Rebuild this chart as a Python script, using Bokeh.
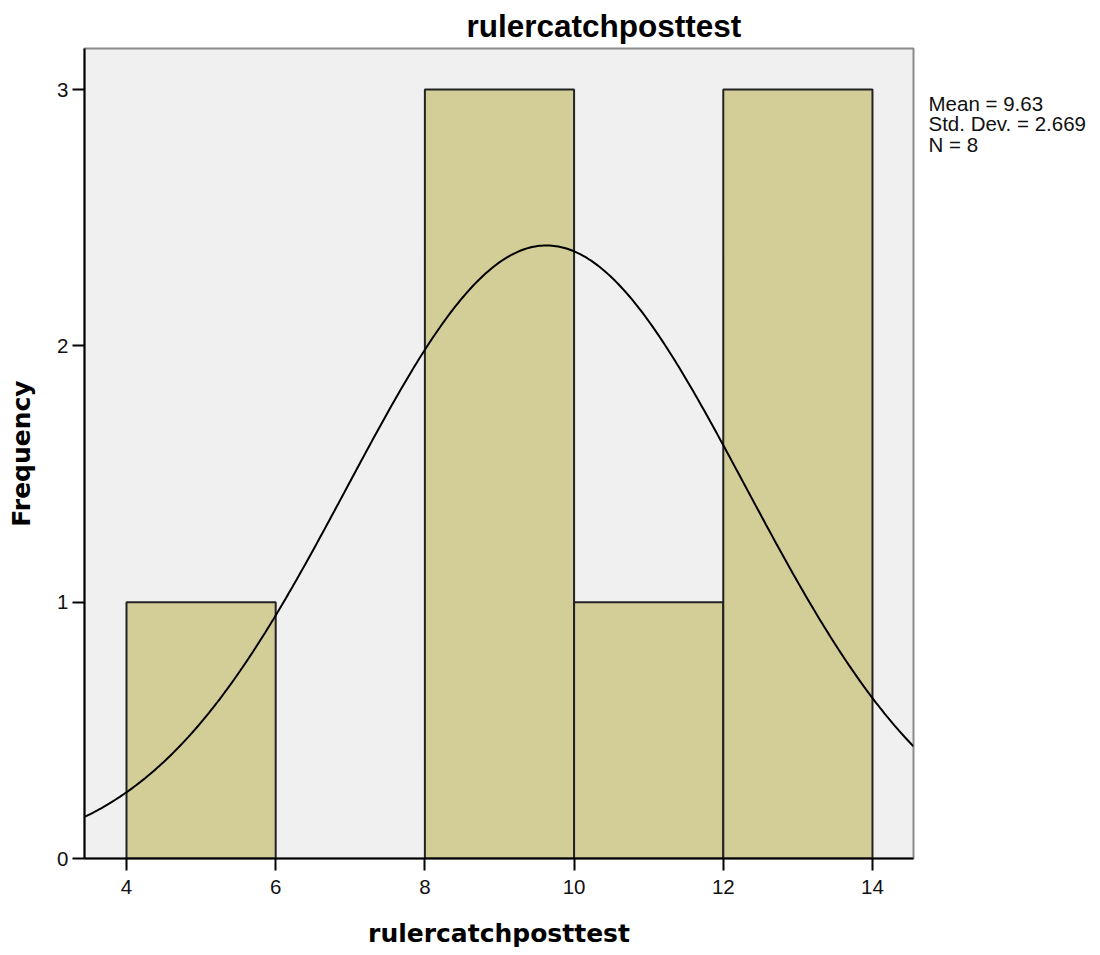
import numpy as np
from bokeh.plotting import figure
from bokeh.models import Range1d, FixedTicker, ColumnDataSource, LinearAxis
from bokeh.embed import file_html
from bokeh.resources import INLINE

# ---- data ----
bin_left = [4, 6, 8, 10, 12]
bin_right = [6, 8, 10, 12, 14]
counts = [1, 0, 3, 1, 3]
x_ticks = [4, 6, 8, 10, 12, 14]
y_ticks = [0, 1, 2, 3]
mean_val = 9.63
std_val = 2.669
n_val = 8
bin_width = 2
title_text = "rulercatchposttest"
x_label = "rulercatchposttest"
y_label = "Frequency"
stat_lines = ["Mean = 9.63", "Std. Dev. = 2.669", "N = 8"]

# ---- figure ----
X0, X1, Y1 = 3.437, 14.55, 3.16
p = figure(width=1090, height=953, output_backend="svg", toolbar_location=None,
           x_range=Range1d(X0, X1), y_range=Range1d(0, Y1),
           min_border_left=84, min_border_right=177, min_border_top=48,
           min_border_bottom=95)
p.background_fill_color = "#F0F0F0"
p.border_fill_color = "white"
p.outline_line_color = "#8a8a8a"
p.outline_line_width = 2
p.xgrid.visible = False
p.ygrid.visible = False

# title
p.title.text = title_text
p.title.align = "left"
p.title.offset = 382
p.title.standoff = 9
p.title.text_font = "Liberation Sans"
p.title.text_font_style = "bold"
p.title.text_font_size = "31.5px"
p.title.text_color = "black"

# bars
keep = [i for i, c in enumerate(counts) if c > 0]
src = ColumnDataSource(dict(left=[bin_left[i] for i in keep],
                            right=[bin_right[i] for i in keep],
                            top=[counts[i] for i in keep],
                            bottom=[0] * len(keep)))
p.quad(left="left", right="right", top="top", bottom="bottom", source=src,
       fill_color="#D3CE97", line_color="#222222", line_width=2)

# normal curve from the displayed statistics
xs = np.linspace(X0, X1, 400)
ys = n_val * bin_width / (std_val * np.sqrt(2 * np.pi)) * np.exp(-0.5 * ((xs - mean_val) / std_val) ** 2)
p.line(xs, ys, line_color="black", line_width=2)

# axes
for ax in (p.xaxis[0], p.yaxis[0]):
    ax.axis_line_color = "black"
    ax.axis_line_width = 2
    ax.major_tick_line_color = "black"
    ax.major_tick_line_width = 2
    ax.major_tick_out = 12
    ax.major_tick_in = 0
    ax.minor_tick_line_color = None
    ax.major_label_text_font = "Liberation Sans"
    ax.major_label_text_font_size = "20.5px"
    ax.major_label_text_color = "#111111"
    ax.axis_label_text_font = "DejaVu Sans"
    ax.axis_label_text_font_style = "bold"
    ax.axis_label_text_font_size = "25px"
    ax.axis_label_text_color = "black"

p.xaxis[0].ticker = FixedTicker(ticks=x_ticks)
p.yaxis[0].ticker = FixedTicker(ticks=y_ticks)
p.xaxis[0].major_label_standoff = 9
p.yaxis[0].major_label_standoff = 4
p.xaxis[0].axis_label = x_label
p.yaxis[0].axis_label = y_label
p.xaxis[0].axis_label_standoff = 22
p.yaxis[0].axis_label_standoff = 18

# statistics box (text at the right of the frame)
stat_y = [round(2.947 - i * 0.0811, 4) for i in range(len(stat_lines))]
stats_axis = LinearAxis(ticker=FixedTicker(ticks=stat_y),
                        major_label_overrides={y: s for y, s in zip(stat_y, stat_lines)})
stats_axis.axis_line_color = None
stats_axis.major_tick_line_color = None
stats_axis.minor_tick_line_color = None
stats_axis.major_tick_out = 0
stats_axis.major_tick_in = 0
stats_axis.major_label_standoff = 15
stats_axis.major_label_text_font = "Liberation Sans"
stats_axis.major_label_text_font_size = "20.5px"
stats_axis.major_label_text_color = "#111111"
p.add_layout(stats_axis, "right")

open("out.html", "w").write(file_html(p, INLINE))
